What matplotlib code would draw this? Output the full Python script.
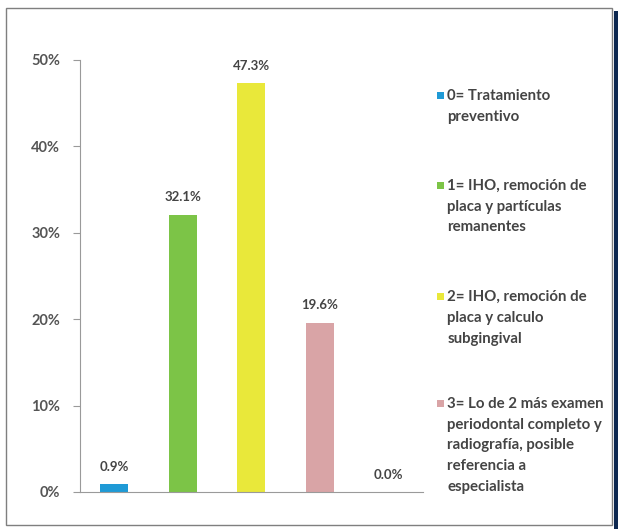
import numpy as np
import matplotlib.pyplot as plt
from matplotlib.patches import Rectangle

# data
categorias = ["0", "1", "2", "3", "4"]
porcentajes = [0.9, 32.1, 47.3, 19.6, 0.0]
colores = ["#1f9ad6", "#7cc447", "#e9e83a", "#d9a4a6", "#8064a2"]
etiquetas = ["0.9%", "32.1%", "47.3%", "19.6%", "0.0%"]
leyenda = [
    "0= Tratamiento\npreventivo",
    "1= IHO, remoción de\nplaca y partículas\nremanentes",
    "2= IHO, remoción de\nplaca y calculo\nsubgingival",
    "3= Lo de 2 más examen\nperiodontal completo y\nradiografía, posible\nreferencia a\nespecialista",
]
yticks = [0, 10, 20, 30, 40, 50]

plt.rcParams['font.family'] = ['Lato', 'DejaVu Sans']
texto = "#444444"

fig = plt.figure(figsize=(6.18, 5.29), dpi=100)
ax = fig.add_axes([0.129, 0.070, 0.555, 0.817])

x = np.arange(len(categorias))
ax.bar(x, porcentajes, width=0.41, color=colores)
for xi, v, t in zip(x, porcentajes, etiquetas):
    ax.text(xi, v + 1.3, t, ha='center', va='bottom', fontsize=9.5,
            color=texto, fontweight='bold')

ax.set_xlim(-0.5, len(categorias) - 0.5)
ax.set_ylim(0, 50)
ax.set_yticks(yticks)
ax.set_yticklabels([f"{t}%" for t in yticks], fontsize=10.5, color="#555555",
                   fontweight='bold')
ax.tick_params(axis='y', length=5, color="#9a9a9a", pad=9)
ax.set_xticks([])
for s in ['top', 'right']:
    ax.spines[s].set_visible(False)
for s in ['left', 'bottom']:
    ax.spines[s].set_color("#9a9a9a")

# legend, one block per category (first line top in figure fraction)
y_leyenda = [0.832, 0.662, 0.452, 0.250]
for yl, c, lab in zip(y_leyenda, colores, leyenda):
    fig.patches.append(Rectangle((0.707, yl - 0.019), 0.011, 0.013,
                                 transform=fig.transFigure, color=c, linewidth=0))
    fig.text(0.724, yl, lab, ha='left', va='top', fontsize=10.8,
             fontweight='bold', color=texto, linespacing=1.62)

# outer frame of the figure
fig.patches.append(Rectangle((0.010, 0.008), 0.980, 0.977, transform=fig.transFigure,
                             fill=False, edgecolor="#7f7f7f", linewidth=1))
fig.patches.append(Rectangle((0.993, 0.0), 0.007, 0.98, transform=fig.transFigure,
                             color="#0d2850", linewidth=0))

fig.savefig("out.png", dpi=100)
